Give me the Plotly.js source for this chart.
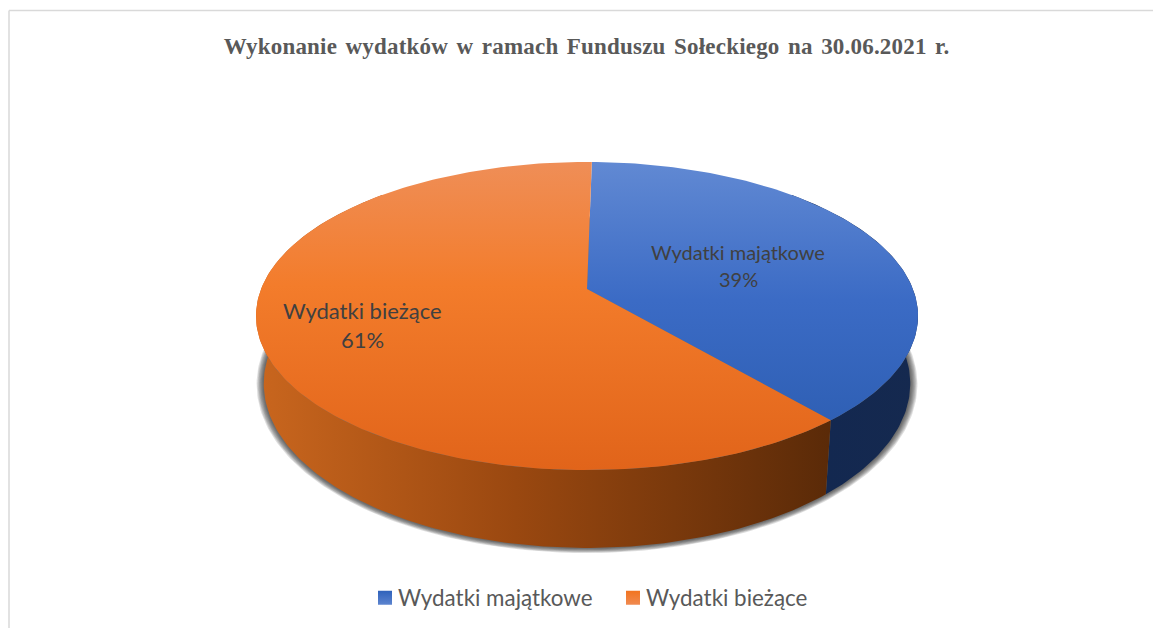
<!DOCTYPE html>
<html>
<head>
<meta charset="utf-8">
<script src="https://cdn.plot.ly/plotly-3.0.1.min.js"></script>
<style>
html,body{margin:0;padding:0;background:#fff;overflow:hidden}
#chart{width:1153px;height:628px}
#chart .gtitle{word-spacing:2.5px;letter-spacing:0.2px}
#chart .legend .legendtext{transform:translateX(-7px)}
</style>
</head>
<body>
<div id="chart"></div>
<script>
// ---- data ----
const categories = ['Wydatki majątkowe', 'Wydatki bieżące'];
const values = [38.5, 61.5];
const percentLabels = ['39%', '61%'];
const chartTitle = 'Wykonanie wydatków w ramach Funduszu Sołeckiego na 30.06.2021 r.';

// ---- styling ----
const topColors = [
  [[0, '#6189d3'], [0.45, '#3b6bc5'], [1, '#2a5bae']],
  [[0, '#ef8e57'], [0.4, '#f37c2b'], [1, '#e1641a']]
];
const wallColors = [
  [[0, '#132850'], [1, '#15294f']],
  [[0, '#c9661e'], [0.45, '#9a4810'], [1, '#5a2a08']]
];
const legendColors = [['#2f62bb', '#5c84cf'], ['#f2741f', '#f08a50']];
const labelPos = [{x: 738, y1: 252, y2: 279, size: 20}, {x: 362, y1: 310, y2: 339, size: 22}];

// ---- 3D projection of the unit disc onto the page ----
const startDeg = 1;
const topDisc = {x0: 587, y0: 289, a: 325.9, b: 0.1753, c: 149.3};
const botDisc = {x0: 587, y0: 354, a: 318, b: 0.18, c: 159};
function project(d, deg, grow) {
  const r = deg * Math.PI / 180, u = Math.sin(r), v = Math.cos(r), w = 1 + d.b * v, g = grow || 0;
  return [d.x0 + (d.a + g) * u / w, d.y0 - (d.c + g * 0.6) * v / w];
}
function arc(d, from, to, grow) {
  const pts = [], n = Math.max(2, Math.ceil(Math.abs(to - from)));
  for (let i = 0; i <= n; i++) pts.push(project(d, from + (to - from) * i / n, grow));
  return pts;
}
const total = values.reduce((s, v) => s + v, 0);
const spans = [];
let acc = startDeg;
values.forEach(v => { const e = acc + v / total * 360; spans.push([acc, e]); acc = e; });

const traces = [];
function poly(pts, extra) {
  return Object.assign({
    type: 'scatter', mode: 'lines', x: pts.map(p => p[0]), y: pts.map(p => p[1]),
    fill: 'toself', line: {width: 0}, hoverinfo: 'skip', showlegend: false
  }, extra);
}
// soft shadow below the disc
[7, 6, 5, 4, 3, 2, 1].forEach(g => {
  traces.push(poly(arc(botDisc, 0, 360, g), {fillcolor: 'rgba(40,40,40,0.15)'}));
});
// side walls: blue part, then orange part
const wallRanges = [[45, spans[0][1]], [spans[1][0], 315]];
wallRanges.forEach((rg, i) => {
  const pts = arc(topDisc, rg[0], rg[1]).concat(arc(botDisc, rg[1], rg[0]));
  traces.push(poly(pts, {
    fillgradient: {type: 'horizontal', colorscale: wallColors[i],
      start: i ? 256 : 825, stop: i ? 832 : 918}
  }));
});
// top faces
spans.forEach((sp, i) => {
  const pts = [[topDisc.x0, topDisc.y0]].concat(arc(topDisc, sp[0], sp[1]));
  pts.push([topDisc.x0, topDisc.y0]);
  traces.push(poly(pts, {
    name: categories[i],
    fillgradient: {type: 'vertical', colorscale: topColors[i], start: 162, stop: 470}
  }));
});
// legend entries
categories.forEach((c, i) => {
  traces.push({
    type: 'scatter', mode: 'markers', x: [-100], y: [-100], name: c, showlegend: true,
    hoverinfo: 'skip',
    marker: {symbol: 'square', size: 14, color: legendColors[i][0],
      gradient: {type: 'vertical', color: legendColors[i][1]}}
  });
});

const annotations = [];
categories.forEach((c, i) => {
  const L = labelPos[i];
  [[c, L.y1], [percentLabels[i], L.y2]].forEach(t => annotations.push({
    x: L.x, y: t[1], xref: 'x', yref: 'y', text: t[0], showarrow: false,
    xanchor: 'center', yanchor: 'middle',
    font: {family: 'Lato, sans-serif', size: L.size, color: '#404040'}
  }));
});

const layout = {
  width: 1153, height: 628,
  margin: {l: 0, r: 0, t: 0, b: 0},
  paper_bgcolor: '#ffffff', plot_bgcolor: '#ffffff',
  title: {
    text: '<b>' + chartTitle + '</b>', x: 0.5087, xanchor: 'center', y: 0.9265, yanchor: 'middle',
    font: {family: '"Liberation Serif", serif', size: 23, color: '#595959'}
  },
  xaxis: {range: [0, 1153], visible: false, fixedrange: true},
  yaxis: {range: [628, 0], visible: false, fixedrange: true},
  showlegend: true,
  legend: {
    orientation: 'h', entrywidth: 203, entrywidthmode: 'pixels',
    x: 365 / 1153, xanchor: 'left', y: 0.0475, yanchor: 'middle',
    font: {family: 'Lato, sans-serif', size: 22.4, color: '#595959'},
    bgcolor: 'rgba(0,0,0,0)', traceorder: 'normal'
  },
  annotations: annotations,
  shapes: [
    {type: 'line', xref: 'paper', yref: 'paper', x0: 9 / 1153, x1: 1, y0: 1 - 10.5 / 628, y1: 1 - 10.5 / 628, line: {color: '#d9d9d9', width: 1.5}},
    {type: 'line', xref: 'paper', yref: 'paper', x0: 9 / 1153, x1: 9 / 1153, y0: 0, y1: 1 - 10.5 / 628, line: {color: '#d9d9d9', width: 1.5}}
  ]
};
Plotly.newPlot('chart', traces, layout, {displayModeBar: false, staticPlot: true});
</script>
</body>
</html>
